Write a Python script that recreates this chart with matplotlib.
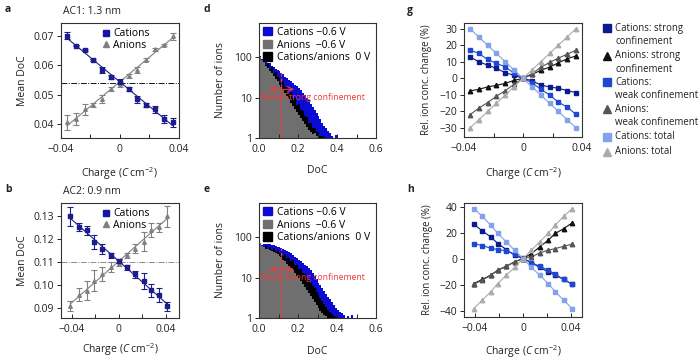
import matplotlib
matplotlib.use("Agg")
import matplotlib.pyplot as plt
import numpy as np
from matplotlib.lines import Line2D
from matplotlib.patches import Patch

plt.rcParams["font.family"] = ["Open Sans", "DejaVu Sans"]
plt.rcParams["mathtext.fontset"] = "custom"
plt.rcParams["mathtext.rm"] = "Open Sans"
plt.rcParams["mathtext.it"] = "Open Sans:italic"
plt.rcParams["axes.unicode_minus"] = True

# ---------------- data ----------------
# panel a (AC1: 1.3 nm)
charge_a = [-0.036, -0.030, -0.024, -0.018, -0.012, -0.006, 0.0,
            0.006, 0.012, 0.018, 0.024, 0.030, 0.036]
cat_doc_a = [0.0701, 0.0668, 0.0653, 0.0618, 0.0584, 0.0561, 0.0545,
             0.0519, 0.0485, 0.0465, 0.0450, 0.0418, 0.0405]
cat_err_a = [0.0012, 0.0003, 0.0004, 0.0004, 0.0010, 0.0008, 0.0010,
             0.0006, 0.0012, 0.0006, 0.0012, 0.0014, 0.0014]
an_doc_a = [0.0405, 0.0418, 0.0450, 0.0465, 0.0484, 0.0519, 0.0535,
            0.0564, 0.0585, 0.0620, 0.0655, 0.0670, 0.0700]
an_err_a = [0.0025, 0.0020, 0.0018, 0.0008, 0.0014, 0.0008, 0.0008,
            0.0008, 0.0010, 0.0004, 0.0005, 0.0004, 0.0012]
neutral_a = 0.054

# panel b (AC2: 0.9 nm)
charge_b = [-0.041, -0.034, -0.027, -0.021, -0.014, -0.007, 0.0,
            0.007, 0.014, 0.021, 0.027, 0.034, 0.041]
cat_doc_b = [0.1300, 0.1253, 0.1240, 0.1188, 0.1158, 0.1131, 0.1106,
             0.1078, 0.1048, 0.1018, 0.0978, 0.0958, 0.0909]
cat_err_b = [0.0040, 0.0018, 0.0020, 0.0030, 0.0020, 0.0010, 0.0010,
             0.0010, 0.0015, 0.0035, 0.0030, 0.0030, 0.0020]
an_doc_b = [0.0910, 0.0960, 0.0977, 0.1020, 0.1050, 0.1080, 0.1098,
            0.1130, 0.1160, 0.1190, 0.1240, 0.1252, 0.1300]
an_err_b = [0.0020, 0.0030, 0.0040, 0.0045, 0.0030, 0.0020, 0.0012,
            0.0012, 0.0020, 0.0040, 0.0030, 0.0020, 0.0045]
neutral_b = 0.110

# panels d, e: histograms of degree of confinement, bin width 0.01
doc_bin = 0.01
d_cat = [108, 92, 88, 80, 72, 70, 61, 58, 52, 48,
         45, 40, 38, 33, 31, 27, 25, 23, 20, 19,
         17, 15, 13, 11.5, 10, 8.5, 7, 6, 5, 4.2,
         3.5, 3, 2.4, 2, 1.8, 1.5, 1.3, 1.1, 0, 1.2]
d_an = [100, 84, 74, 62, 54, 46, 40, 34, 29, 25,
        21, 18, 15, 13, 11, 9, 7.5, 6.2, 5.2, 4.4,
        3.7, 3.1, 2.6, 2.2, 1.9, 1.6, 1.4, 1.25, 1.3, 1.1]
d_zero = [100, 78, 90, 64, 70, 52, 56, 40, 44, 32,
          31, 23, 25, 18, 18, 12, 14, 9.5, 10, 6.5,
          6.8, 4.8, 4.6, 3.5, 3.4, 2.4, 2.4, 1.8, 1.8, 1.4,
          1.4, 1.15, 1.15, 1.05]
e_cat = [62, 64, 66, 68, 66, 67, 65, 63, 60, 58,
         56, 54, 51, 48, 46, 43, 40, 37, 33, 30,
         27, 25, 23, 21, 19, 17, 15, 13, 11, 9,
         7.5, 6.5, 5.5, 4.6, 4, 3.4, 2.9, 2.5, 2.1, 1.8,
         1.6, 1.4, 1.3, 1.2, 0, 1.15, 0, 1.2]
e_an = [72, 60, 56, 52, 50, 48, 45, 43, 40, 38,
        35, 32, 28, 25, 22, 19, 17, 15, 13, 11,
        9.5, 8, 7, 6, 5, 4.2, 3.6, 3, 2.5, 2.1,
        1.8, 1.5, 1.35, 1.2, 1.1]
e_zero = [55, 58, 50, 60, 52, 57, 48, 53, 44, 47,
          41, 41, 35, 38, 31, 31, 25, 27, 21, 20,
          16, 16, 13, 12, 10, 8.5, 7.5, 6.2, 5.5, 4.3,
          3.8, 3.1, 2.7, 2.2, 1.9, 1.6, 1.4, 1.25, 1.1, 1.05]
doc_threshold = 0.115

# panels g, h: relative ion concentration change (%)
cat_strong_g = [13, 10, 8, 6, 3.4, 1.8, 0, -1.4, -4, -5.2, -6, -7.4, -8.6]
an_strong_g = [-7.6, -6.6, -5.2, -4.2, -3.0, -1.2, 0, 2.4, 4.8, 6.8, 9.4, 11.8, 13.6]
cat_weak_g = [17.2, 15, 11.4, 9, 7, 3, 0, -2.6, -6.6, -10, -14.4, -17.4, -21.8]
an_weak_g = [-22, -18, -14.6, -10.8, -7.4, -3.6, 0, 2.8, 6.6, 9.6, 12.2, 14.6, 17]
cat_total_g = [30, 25, 20, 15, 10, 5, 0, -5, -10, -15, -20, -25, -30]
an_total_g = [-30, -25, -20, -15, -10, -5, 0, 5, 10, 15, 20, 25, 30]

cat_strong_h = [26.7, 21.6, 17, 11.9, 7.3, 2.9, 0.4, -2.7, -6.5, -9.8, -12.4, -15.7, -19.3]
an_strong_h = [-18.8, -15.7, -12.4, -8.6, -5.5, -2.2, 0.4, 4.2, 9.3, 14.4, 19.6, 23.4, 27.7]
cat_weak_h = [11.9, 10.3, 8.3, 7.3, 6.3, 3.7, 0.6, -2.9, -5.5, -8.6, -11.6, -15.7, -19.5]
an_weak_h = [-19.3, -16.2, -12.4, -8.6, -5.5, -2.2, 0.4, 1.7, 4.7, 6.8, 8, 9.8, 11.4]
cat_total_h = [38.7, 32.8, 26, 19.6, 13.2, 6.8, 0.4, -6.5, -12.4, -18.8, -25.2, -31.6, -38]
an_total_h = [-38, -31.6, -25.2, -18.8, -12.4, -6.5, 0.4, 6.8, 13.2, 19.6, 26, 32.8, 38.7]

conc_labels = ["Cations: strong\nconfinement", "Anions: strong\nconfinement",
               "Cations:\nweak confinement", "Anions:\nweak confinement",
               "Cations: total", "Anions: total"]

# ---------------- styles ----------------
TXT = "#222222"
FS = 7.5
NAVY = "#1c1c8c"
GREY = "#808080"
H_BLUE = "#0a0ad2"
H_GREY = "#6f6f6f"
RED = "#ee3b3b"
conc_styles = [
    dict(color="#0b1a8e", marker="s"),
    dict(color="#111111", marker="^"),
    dict(color="#1f48d0", marker="s"),
    dict(color="#555555", marker="^"),
    dict(color="#82a2ea", marker="s"),
    dict(color="#ababab", marker="^"),
]
W, H = 700.0, 364.0


def px_axes(fig, left, top, right, bottom):
    return fig.add_axes([left / W, 1 - bottom / H, (right - left) / W, (bottom - top) / H])


def style_axes(ax):
    for s in ax.spines.values():
        s.set_linewidth(0.8)
        s.set_color("#333333")
    ax.tick_params(axis="x", which="both", direction="in", length=3, width=0.7,
                   labelsize=FS, colors=TXT, pad=4)
    ax.tick_params(axis="y", which="both", direction="out", length=3, width=0.7,
                   labelsize=FS, colors=TXT, pad=2)


def charge_axis(ax, lim):
    ax.set_xlim(*lim)
    ax.set_xticks([-0.04, 0, 0.04])
    ax.set_xticklabels(["\u22120.04", "0", "0.04"])
    ax.set_xticks([-0.02, 0.02], minor=True)
    ax.tick_params(axis="x", which="minor", direction="in", length=3, width=0.7)
    ax.set_xlabel("Charge ($\\mathit{C}$ cm$^{\\mathrm{\u22122}}$)", fontsize=FS, color=TXT)


fig = plt.figure(figsize=(7, 3.64), dpi=100)


def doc_panel(ax, x, cat, cat_err, an, an_err, neutral, ylim, yticks, ytl, hline_color, xlab_y):
    ax.axhline(neutral, color=hline_color, lw=0.7, ls=(0, (6, 1.5, 1, 1.5)), zorder=1)
    for y, err, col, mk in ((an, an_err, GREY, "^"), (cat, cat_err, NAVY, "s")):
        coef = np.polyfit(x, y, 1)
        xx = np.array([x[0], x[-1]])
        ax.plot(xx, np.polyval(coef, xx), color=col, lw=0.8, zorder=2)
        ax.errorbar(x, y, yerr=err, fmt=mk, color=col, ms=2.6, elinewidth=0.8,
                    capsize=2.5, capthick=0.8, ecolor=col, zorder=3)
    ax.set_ylim(*ylim)
    ax.set_yticks(yticks)
    ax.set_yticklabels(ytl)
    ax.set_ylabel("Mean DoC", fontsize=FS, color=TXT)
    style_axes(ax)
    charge_axis(ax, ax.get_xlim())
    handles = [Line2D([], [], ls="", marker="s", color="#1515a8", ms=5),
               Line2D([], [], ls="", marker="^", color=GREY, ms=5)]
    ax.legend(handles, ["Cations", "Anions"], loc="upper left", bbox_to_anchor=(0.30, 1.0),
              frameon=False, fontsize=FS, handlelength=0.8, handletextpad=0.3,
              labelspacing=0.05, borderaxespad=0.1)


ax_a = px_axes(fig, 61, 23, 178.5, 138)
ax_a.set_xlim(-0.04, 0.04)
doc_panel(ax_a, charge_a, cat_doc_a, cat_err_a, an_doc_a, an_err_a, neutral_a,
          (0.0352, 0.0745), [0.04, 0.05, 0.06, 0.07], ["0.04", "0.05", "0.06", "0.07"],
          "#111111", -0.235)
ax_a.xaxis.set_label_coords(0.5, -0.235)
ax_a.yaxis.set_label_coords(-0.28, 0.5)

ax_b = px_axes(fig, 61, 203, 179, 318)
ax_b.set_xlim(-0.049, 0.051)
doc_panel(ax_b, charge_b, cat_doc_b, cat_err_b, an_doc_b, an_err_b, neutral_b,
          (0.0858, 0.1358), [0.09, 0.10, 0.11, 0.12, 0.13],
          ["0.09", "0.10", "0.11", "0.12", "0.13"], "#8a8a8a", -0.2)
ax_b.xaxis.set_label_coords(0.5, -0.2)
ax_b.yaxis.set_label_coords(-0.28, 0.5)


def hist_panel(ax, cat, an, zero, xlab_y, vline_top):
    for vals, col in ((cat, H_BLUE), (zero, "#000000"), (an, H_GREY)):
        vals = np.clip(np.asarray(vals, float), 0.1, None)
        edges = np.arange(len(vals) + 1) * doc_bin
        ax.stairs(vals, edges, fill=True, baseline=0.1, color=col, lw=0)
    ax.set_yscale("log")
    ax.set_ylim(1, 700)
    ax.set_xlim(0, 0.6)
    ax.set_yticks([1, 10, 100])
    ax.set_yticklabels(["1", "10", "100"])
    ax.yaxis.set_minor_locator(matplotlib.ticker.NullLocator())
    ax.set_xticks([0, 0.2, 0.4, 0.6])
    ax.set_xticklabels(["0.0", "0.2", "0.4", "0.6"])
    ax.set_xticks([0.1, 0.3, 0.5], minor=True)
    style_axes(ax)
    ax.set_xlabel("DoC", fontsize=FS, color=TXT)
    ax.set_ylabel("Number of ions", fontsize=FS, color=TXT)
    ax.yaxis.set_label_coords(-0.278, 0.5)
    ax.xaxis.set_label_coords(0.5, xlab_y)
    ax.plot([doc_threshold, doc_threshold], [1, vline_top], color=RED, lw=0.9,
            ls=(0, (3, 1.5)), zorder=5)
    for tip in (0.05, 0.18):
        ax.annotate("", xy=(tip, 16), xytext=(doc_threshold, 16), zorder=6,
                    arrowprops=dict(arrowstyle="->", color=RED, lw=0.8, shrinkA=0, shrinkB=0))
    ax.text(0.005, 10, "Weak Strong confinement", color=RED, fontsize=6.2, va="center",
            ha="left", zorder=7)
    handles = [Patch(color=H_BLUE), Patch(color=H_GREY), Patch(color="#000000")]
    ax.legend(handles, ["Cations \u22120.6 V", "Anions  \u22120.6 V", "Cations/anions  0 V"],
              loc="upper left", frameon=False, fontsize=FS, handlelength=0.9, handleheight=0.9,
              handletextpad=0.5, labelspacing=0.18, borderaxespad=0.15, borderpad=0.2)


ax_d = px_axes(fig, 259, 23, 376, 138)
hist_panel(ax_d, d_cat, d_an, d_zero, -0.235, 45)
ax_e = px_axes(fig, 259, 203, 376, 318)
hist_panel(ax_e, e_cat, e_an, e_zero, -0.24, 55)


def conc_panel(ax, x, series, ylim, yticks, lim, xlab_y):
    for vals, st in zip(series, conc_styles):
        ax.plot(x, vals, color=st["color"], marker=st["marker"], ms=3.2, lw=0.8)
    ax.set_ylim(*ylim)
    ax.set_yticks(yticks)
    ax.set_yticklabels([str(t).replace("-", "\u2212") for t in yticks])
    style_axes(ax)
    charge_axis(ax, lim)
    ax.set_ylabel("Rel. ion conc. change (%)", fontsize=6.9, color=TXT)
    ax.yaxis.set_label_coords(-0.267, 0.5)
    ax.xaxis.set_label_coords(0.5, xlab_y)


ax_g = px_axes(fig, 464, 23, 582, 137)
conc_panel(ax_g, charge_a,
           [cat_strong_g, an_strong_g, cat_weak_g, an_weak_g, cat_total_g, an_total_g],
           (-35.4, 33.4), [-30, -20, -10, 0, 10, 20, 30], (-0.04, 0.04), -0.245)
ax_h = px_axes(fig, 464.3, 203, 581.7, 317)
conc_panel(ax_h, charge_b,
           [cat_strong_h, an_strong_h, cat_weak_h, an_weak_h, cat_total_h, an_total_h],
           (-44.5, 43), [-40, -20, 0, 20, 40], (-0.049, 0.049), -0.228)

# legend for g/h drawn beside panel g
entry_top = [28.3, 55.7, 82.3, 109.0, 136.7, 151.7]
for lab, st, ytop in zip(conc_labels, conc_styles, entry_top):
    fig.add_artist(Line2D([607 / W], [1 - ytop / H], ls="", marker=st["marker"],
                          color=st["color"], ms=5.5, transform=fig.transFigure))
    for i, line in enumerate(lab.split("\n")):
        fig.text(615 / W, 1 - (ytop + i * 13.3) / H, line, fontsize=6.9, color=TXT,
                 va="center", ha="left")

# panel letters and titles
for letter, x, y in (("a", 5, 10), ("b", 5, 190), ("d", 204, 10), ("e", 204, 190),
                     ("g", 407, 10), ("h", 407, 190)):
    fig.text(x / W, 1 - y / H, letter, fontsize=FS, fontweight="bold", color=TXT,
             va="center", ha="left")
fig.text(63 / W, 1 - 12 / H, "AC1: 1.3 nm", fontsize=FS, color=TXT, va="center")
fig.text(63 / W, 1 - 192 / H, "AC2: 0.9 nm", fontsize=FS, color=TXT, va="center")

fig.savefig("out.png", dpi=100)
